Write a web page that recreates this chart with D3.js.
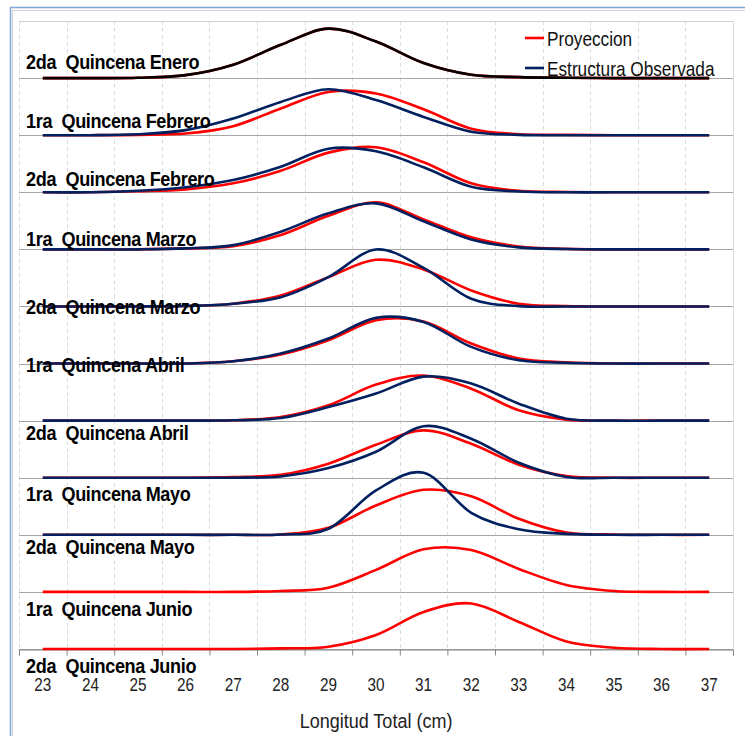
<!DOCTYPE html>
<html>
<head>
<meta charset="utf-8">
<script src="https://cdn.jsdelivr.net/npm/d3@7"></script>
<style>
  body { margin: 0; background: #fff; }
  svg { display: block; }
</style>
</head>
<body>
<div id="chart"></div>
<script>
// length classes (cm)
const categories = [23, 24, 25, 26, 27, 28, 29, 30, 31, 32, 33, 34, 35, 36, 37];

const rowLabels = [
  "2da  Quincena Enero",
  "1ra  Quincena Febrero",
  "2da  Quincena Febrero",
  "1ra  Quincena Marzo",
  "2da  Quincena Marzo",
  "1ra  Quincena Abril",
  "2da  Quincena Abril",
  "1ra  Quincena Mayo",
  "2da  Quincena Mayo",
  "1ra  Quincena Junio",
  "2da  Quincena Junio"
];

// % per length class
const proyeccion = [
  [0, 0, 0.2, 1.8, 8.2, 20.4, 30.3, 22.4, 9.2, 2.0, 0.6, 0.2, 0, 0, 0],
  [0, 0, 0.2, 1.0, 5.5, 16.4, 26.5, 25.6, 15.9, 4.0, 0.6, 0.2, 0, 0, 0],
  [0, 0, 0.6, 1.8, 5.5, 13.2, 24.3, 27.6, 18.4, 5.5, 0.9, 0.2, 0, 0, 0],
  [0, 0, 0, 0.6, 2.0, 8.8, 20.6, 28.8, 18.4, 7.4, 1.8, 0.3, 0, 0, 0],
  [0, 0, 0, 0.3, 1.7, 6.7, 18.0, 28.6, 22.7, 9.8, 1.7, 0.2, 0, 0, 0],
  [0, 0, 0, 0, 1.4, 5.5, 14.3, 26.5, 25.7, 12.3, 3.1, 0.8, 0, 0, 0],
  [0, 0, 0, 0, 0.2, 2.2, 9.4, 22.1, 27.6, 19.6, 6.3, 0.6, 0, 0, 0],
  [0, 0, 0, 0, 0.4, 1.8, 8.6, 20.2, 29.0, 20.8, 8.0, 1.1, 0, 0, 0],
  [0, 0, 0, 0, 0, 0.2, 4.3, 18.0, 27.6, 23.6, 9.8, 1.4, 0.2, 0, 0],
  [0, 0, 0, 0, 0, 0.6, 2.6, 13.5, 26.1, 25.7, 14.1, 4.3, 0.6, 0, 0],
  [0, 0, 0, 0, 0, 0.4, 1.4, 8.6, 22.7, 27.9, 16.6, 4.6, 0.8, 0, 0]
];

// observed structure (first row is the starting structure, drawn black)
const observada = [
  [0, 0, 0.2, 1.8, 8.2, 20.4, 30.3, 22.4, 9.2, 2.0, 0.6, 0.2, 0, 0, 0],
  [0, 0, 0.6, 3.1, 10.2, 20.4, 28.2, 21.5, 11.2, 2.1, 0.2, 0, 0, 0, 0],
  [0, 0, 0.9, 3.1, 7.5, 15.7, 26.7, 25.1, 15.3, 3.4, 0.5, 0, 0, 0, 0],
  [0, 0, 0, 0.6, 2.6, 10.8, 22.1, 28.2, 17.2, 6.1, 1.2, 0.2, 0, 0, 0],
  [0, 0, 0, 0.3, 1.7, 5.7, 18.0, 34.9, 23.6, 4.7, 0.2, 0, 0, 0, 0],
  [0, 0, 0, 0, 1.4, 6.1, 15.3, 28.0, 25.5, 10.2, 2.0, 0.5, 0, 0, 0],
  [0, 0, 0, 0, 0.2, 1.6, 8.3, 16.6, 27.0, 22.7, 10.4, 1.2, 0, 0, 0],
  [0, 0, 0, 0, 0, 0.8, 5.9, 15.9, 31.6, 23.9, 9.2, 0.5, 0, 0, 0],
  [0, 0, 0, 0, 0, 0.2, 3.7, 27.2, 38.0, 13.5, 3.4, 0.6, 0, 0, 0]
];

const legendItems = ["Proyeccion", "Estructura Observada"];

// label baselines (px) — hand placed text boxes in the original
const labelBaseline = [69, 128, 186, 246, 314, 372, 440, 501, 554, 616, 673];

const width = 745, height = 736;
const plot = { left: 19, right: 733, top: 21, bottom: 649 };
const rowStep = 35;
const nRows = rowLabels.length;
const font = "'Liberation Sans Narrow', 'Arial Narrow', 'Liberation Sans', sans-serif";

// no narrow font available: squeeze text horizontally
function condense(sel, k) {
  sel.each(function () {
    const w = this.getComputedTextLength();
    d3.select(this).attr("textLength", w * k).attr("lengthAdjust", "spacingAndGlyphs");
  });
}

const svg = d3.select("#chart").append("svg")
  .attr("width", width).attr("height", height);

// chart frame
svg.append("rect")
  .attr("x", 10.5).attr("y", 7.5).attr("width", 760).attr("height", 760)
  .attr("fill", "none").attr("stroke", "#7ea6d6").attr("stroke-width", 1.5);
svg.append("rect")
  .attr("x", 12.5).attr("y", 10.5).attr("width", 760).attr("height", 760)
  .attr("fill", "none").attr("stroke", "#d4d4d4").attr("stroke-width", 1);

const x = d3.scaleBand()
  .domain(categories)
  .range([plot.left, plot.right]);
const xEdge = d3.scaleLinear()
  .domain([0, categories.length])
  .range([plot.left, plot.right]);
const y = d3.scaleLinear()
  .domain([0, rowStep * nRows])
  .range([plot.bottom, plot.top]);

const cx = d => x(d) + x.bandwidth() / 2;
const offset = i => (nRows - 1 - i) * rowStep;

// vertical dashed gridlines
svg.append("g")
  .selectAll("line")
  .data(d3.range(0, categories.length + 1))
  .join("line")
  .attr("x1", d => Math.round(xEdge(d)) + 0.5)
  .attr("x2", d => Math.round(xEdge(d)) + 0.5)
  .attr("y1", plot.top)
  .attr("y2", plot.bottom)
  .attr("stroke", "#dcdcdc")
  .attr("stroke-dasharray", d => (d === categories.length ? null : "4,3"));

// horizontal gridlines (one per row baseline)
svg.append("g")
  .selectAll("line")
  .data(d3.range(0, nRows + 1))
  .join("line")
  .attr("x1", plot.left)
  .attr("x2", plot.right)
  .attr("y1", d => Math.round(y(d * rowStep)) + 0.5)
  .attr("y2", d => Math.round(y(d * rowStep)) + 0.5)
  .attr("stroke", d => (d === nRows ? "#d0d0d0" : "#a6a6a6"));

// bottom axis: ticks between categories, labels centred
const axisG = svg.append("g")
  .attr("transform", `translate(0,${Math.round(plot.bottom) + 0.5})`);
axisG.call(d3.axisBottom(xEdge).ticks(categories.length).tickSize(6).tickFormat(""))
  .call(g => g.select(".domain").attr("stroke", "#868686"))
  .call(g => g.selectAll(".tick line").attr("stroke", "#868686"));
axisG.append("g")
  .selectAll("text")
  .data(categories)
  .join("text")
  .attr("x", d => cx(d))
  .attr("y", 41)
  .attr("text-anchor", "middle")
  .attr("font-family", font)
  .attr("font-size", 18)
  .attr("fill", "#222")
  .text(d => d)
  .call(condense, 0.85);

svg.append("text")
  .attr("x", 376)
  .attr("y", 728)
  .attr("text-anchor", "middle")
  .attr("font-family", font)
  .attr("font-size", 20)
  .attr("fill", "#222")
  .text("Longitud Total (cm)")
  .call(condense, 0.9);

// ridge lines
const line = d3.line()
  .x((d, j) => cx(categories[j]))
  .curve(d3.curveCardinal.tension(0));

const lines = svg.append("g")
  .attr("fill", "none")
  .attr("stroke-width", 2.6)
  .attr("stroke-linejoin", "round");

proyeccion.forEach((vals, i) => {
  lines.append("path")
    .datum(vals)
    .attr("stroke", "#ff0000")
    .attr("d", line.y(d => y(d + offset(i))));
  if (observada[i]) {
    lines.append("path")
      .datum(observada[i])
      .attr("stroke", i === 0 ? "#000000" : "#002060")
      .attr("d", line.y(d => y(d + offset(i))));
  }
});

// row labels
svg.append("g")
  .selectAll("text")
  .data(rowLabels)
  .join("text")
  .attr("x", 26)
  .attr("y", (d, i) => labelBaseline[i])
  .attr("font-family", font)
  .attr("font-weight", "bold")
  .attr("font-size", 21)
  .attr("letter-spacing", -0.4)
  .attr("fill", "#000")
  .style("white-space", "pre")
  .text(d => d)
  .call(condense, 0.86);

// legend
const legend = svg.append("g");
legendItems.forEach((name, i) => {
  const ly = 38 + i * 30;
  legend.append("line")
    .attr("x1", 525).attr("x2", 544)
    .attr("y1", ly).attr("y2", ly)
    .attr("stroke", i === 0 ? "#ff0000" : "#002060")
    .attr("stroke-width", 2.6);
  legend.append("text")
    .attr("x", 547)
    .attr("y", ly + 8)
    .attr("font-family", font)
    .attr("font-size", 21)
    .attr("fill", "#111")
    .text(name)
    .call(condense, 0.82);
});
</script>
</body>
</html>
